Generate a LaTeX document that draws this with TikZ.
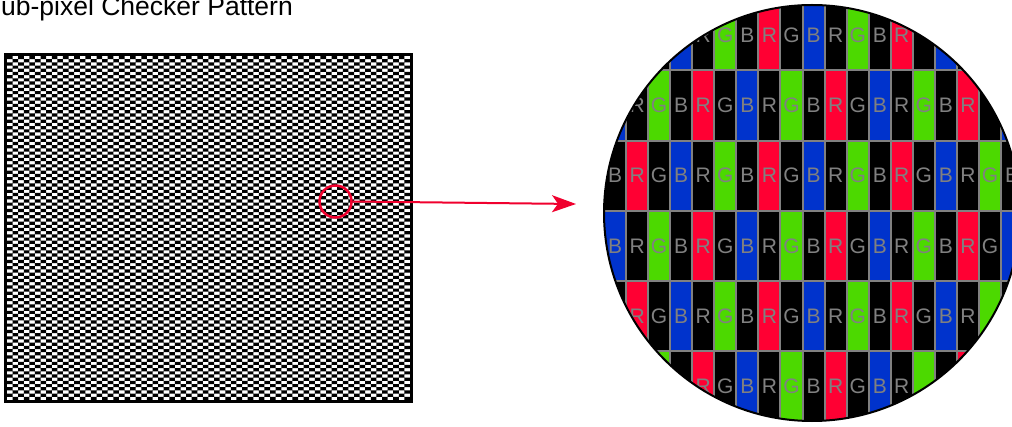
\documentclass[tikz,border=0pt]{standalone}
\usepackage{fontspec}
\setmainfont{Liberation Sans}
\usetikzlibrary{arrows.meta,positioning}

\definecolor{sub0}{HTML}{FF0033}
\definecolor{sub1}{HTML}{4CD900}
\definecolor{sub2}{HTML}{0033CC}
\definecolor{gridgray}{HTML}{808080}
\definecolor{pointer}{HTML}{F0002E}

\tikzset{
  cellbox/.style={draw=gridgray, line width=2pt},
  sublabel/.style={text=gridgray, font=\fontsize{21}{21}\selectfont, inner sep=0pt},
}

\begin{document}
\begin{tikzpicture}[x=1pt,y=-1pt]
  \useasboundingbox (0,0) rectangle (1012,427);
  \fill[white] (0,0) rectangle (1012,427);

  % Title (its first letter falls outside the page)
  \node[anchor=base west, inner sep=0pt, font=\fontsize{26.5}{30}\selectfont] (title) at (1,16) {ub-pixel Checker Pattern};

  % Checker pattern panel
  \fill[black] foreach \j in {0,...,107} { foreach \i in {0,2,...,70} {
      ({7+5.597*(\i+mod(\j,2))},{56+3.185*\j}) rectangle ++(5.597,3.185) } };
  \draw[line width=3pt] (5.5,54.5) rectangle (411.5,401.5);

  % Magnified view
  \begin{scope}
    \clip (812,213) circle[radius=208pt];
    \foreach \r in {0,...,5}{
      \foreach \i in {0,...,18}{
        \pgfmathtruncatemacro{\k}{mod(\i+2,3)}
        \pgfmathtruncatemacro{\on}{mod(\i+\r,2)}
        \ifnum\on=1 \def\cellcol{sub\k}\else\def\cellcol{black}\fi
        \draw[cellbox, fill=\cellcol] ({604+22.06*\i},{70.3*\r}) rectangle ++(22.06,70.3);
      }
    }
    % letters of the sub-pixels
    \foreach \r/\lo/\hi in {0/4/13, 1/1/16, 2/0/18, 3/0/17, 4/1/16, 5/4/13}{
      \foreach \i in {\lo,...,\hi}{
        \pgfmathtruncatemacro{\k}{mod(\i+2,3)}
        \node[sublabel] (lbl-\r-\i) at ({615.03+22.06*\i},{70.3*\r+35.15})
          {\ifcase\k R\or G\or B\fi};
      }
    }
  \end{scope}
  \draw[line width=2pt] (812,213) circle[radius=208pt];

  % Pointer from the spot to the magnified view
  \node[draw=pointer, line width=2.5pt, circle, minimum size=32pt, inner sep=0pt] (spot) at (335.5,201.5) {};
  \coordinate (tip) at (576,204);
  \draw[pointer, line width=2pt, -{Stealth[length=24pt,width=17pt,inset=6pt]}] (spot.east) -- (tip);
\end{tikzpicture}
\end{document}
